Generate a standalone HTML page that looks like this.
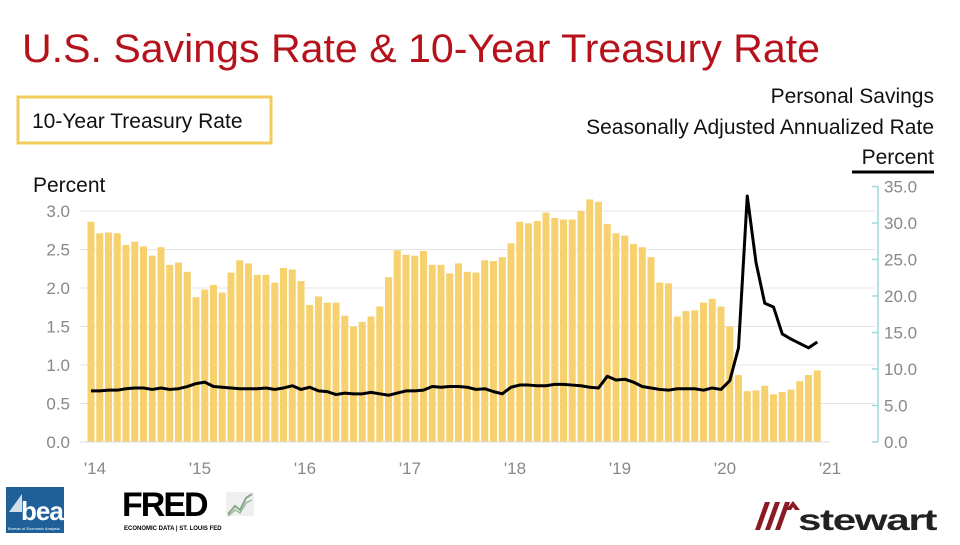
<!DOCTYPE html>
<html><head><meta charset="utf-8"><style>
body{margin:0;width:960px;height:540px;background:#fff;overflow:hidden;font-family:"Liberation Sans",sans-serif}
</style></head><body>
<svg id="s" width="960" height="540" xmlns="http://www.w3.org/2000/svg" font-family="Liberation Sans, sans-serif">
<text x="22" y="62" font-size="40" fill="#b5121b" textLength="798" lengthAdjust="spacingAndGlyphs">U.S. Savings Rate &amp; 10-Year Treasury Rate</text>
<rect x="18" y="97" width="253" height="46" fill="none" stroke="#f2cc5a" stroke-width="3"/>
<text x="32" y="128" font-size="21" fill="#111">10-Year Treasury Rate</text>
<text x="934" y="103" font-size="21" fill="#111" text-anchor="end">Personal Savings</text>
<text x="934" y="134" font-size="21" fill="#111" text-anchor="end">Seasonally Adjusted Annualized Rate</text>
<text x="934" y="164" font-size="21" fill="#111" text-anchor="end">Percent</text>
<line x1="852" y1="172" x2="934" y2="172" stroke="#000" stroke-width="3"/>
<text x="33" y="192" font-size="21" fill="#111">Percent</text>
<g id="grid" stroke="#e4e4e4" stroke-width="1"></g>
<g font-size="17" fill="#888" text-anchor="end" id="ly"></g>
<g font-size="17" fill="#888" id="ry"></g>
<g id="bars" fill="#f6d16e"></g>
<polyline id="ln" fill="none" stroke="#000" stroke-width="3" stroke-linejoin="round"/>
<line x1="878" y1="186" x2="878" y2="442" stroke="#9fd8dc" stroke-width="1.5"/>
<g id="rt" stroke="#9fd8dc" stroke-width="1.5"></g>
<line x1="80" y1="442" x2="830" y2="442" stroke="#ddd"/>
<g font-size="17" fill="#888" text-anchor="middle">
<text x="95" y="474">'14</text><text x="200" y="474">'15</text><text x="305" y="474">'16</text><text x="410" y="474">'17</text><text x="515" y="474">'18</text><text x="620" y="474">'19</text><text x="725" y="474">'20</text><text x="830" y="474">'21</text>
</g>
<rect x="6" y="487" width="58" height="46" fill="#1f5f9a"/>
<polygon points="9,512 22,494 22,512" fill="#fff" opacity="0.8"/>
<text x="21" y="520" font-size="26" font-weight="bold" fill="#fff" letter-spacing="-1">bea</text>
<text x="8" y="530" font-size="4" fill="#fff">Bureau of Economic Analysis</text>
<text x="122" y="516" font-size="34" font-weight="bold" fill="#000" letter-spacing="-2">FRED</text>
<rect x="226" y="492" width="28" height="24" fill="#f0f0f0"/>
<polyline points="228,514 235,506 240,510 246,498 252,494" fill="none" stroke="#8a8" stroke-width="2"/>
<polyline points="228,516 235,510 240,513 246,503 252,500" fill="none" stroke="#9b9" stroke-width="1.5"/>
<text x="124" y="530" font-size="6" font-weight="bold" fill="#000">ECONOMIC DATA  |  ST. LOUIS FED</text>
<g fill="#8b1a22"><polygon points="755,530 765,502 770,502 760,530"/><polygon points="765,530 775,502 780,502 770,530"/><polygon points="775,530 785,502 790,502 780,530"/><polygon points="786,510 793,501 800,510 795,510 793,507 791,510"/></g>
<text x="798" y="530" font-size="30" font-weight="bold" fill="#222" letter-spacing="-1" textLength="138" lengthAdjust="spacingAndGlyphs">stewart</text>
</svg>
<script>
var ns="http://www.w3.org/2000/svg";
function el(p,t,a,txt){var e=document.createElementNS(ns,t);for(var k in a)e.setAttribute(k,a[k]);if(txt)e.textContent=txt;document.getElementById(p).appendChild(e);return e;}
for(var i=0;i<=6;i++){var y=442-i*38.5;if(i>0)el("grid","line",{x1:80,y1:y,x2:875,y2:y});el("ly","text",{x:70,y:y+6},(i*0.5).toFixed(1));}
for(var j=0;j<=7;j++){var y=442-j*36.5;el("ry","text",{x:884,y:y+6},(j*5).toFixed(1));el("rt","line",{x1:872,y1:y,x2:878,y2:y});}
var t=[2.86,2.71,2.72,2.71,2.56,2.60,2.54,2.42,2.53,2.30,2.33,2.21,1.88,1.98,2.04,1.94,2.20,2.36,2.32,2.17,2.17,2.07,2.26,2.24,2.09,1.78,1.89,1.81,1.81,1.64,1.50,1.56,1.63,1.76,2.14,2.49,2.43,2.42,2.48,2.30,2.30,2.19,2.32,2.21,2.20,2.36,2.35,2.40,2.58,2.86,2.84,2.87,2.98,2.91,2.89,2.89,3.00,3.15,3.12,2.83,2.71,2.68,2.57,2.53,2.40,2.07,2.06,1.63,1.70,1.71,1.81,1.86,1.76,1.50,0.87,0.66,0.67,0.73,0.62,0.65,0.68,0.79,0.87,0.93];
var s=[7.0,7.0,7.1,7.1,7.3,7.4,7.4,7.2,7.4,7.2,7.3,7.6,8.0,8.2,7.6,7.5,7.4,7.3,7.3,7.3,7.4,7.2,7.4,7.7,7.2,7.5,7.0,6.9,6.5,6.7,6.6,6.6,6.8,6.6,6.4,6.7,7.0,7.0,7.1,7.6,7.5,7.6,7.6,7.5,7.2,7.3,6.9,6.6,7.5,7.8,7.8,7.7,7.7,7.9,7.9,7.8,7.7,7.5,7.4,9.0,8.5,8.6,8.2,7.6,7.4,7.2,7.1,7.3,7.3,7.3,7.1,7.4,7.2,8.4,12.9,33.7,24.6,19.0,18.5,14.8,14.1,13.5,12.9,13.7];
var pts=[];
for(var k=0;k<84;k++){var x=91+k*8.75;var h=t[k]*77;el("bars","rect",{x:x-3.5,y:442-h,width:7,height:h});pts.push(x+","+(442-s[k]*7.3));}
document.getElementById("ln").setAttribute("points",pts.join(" "));
</script>
</body></html>
